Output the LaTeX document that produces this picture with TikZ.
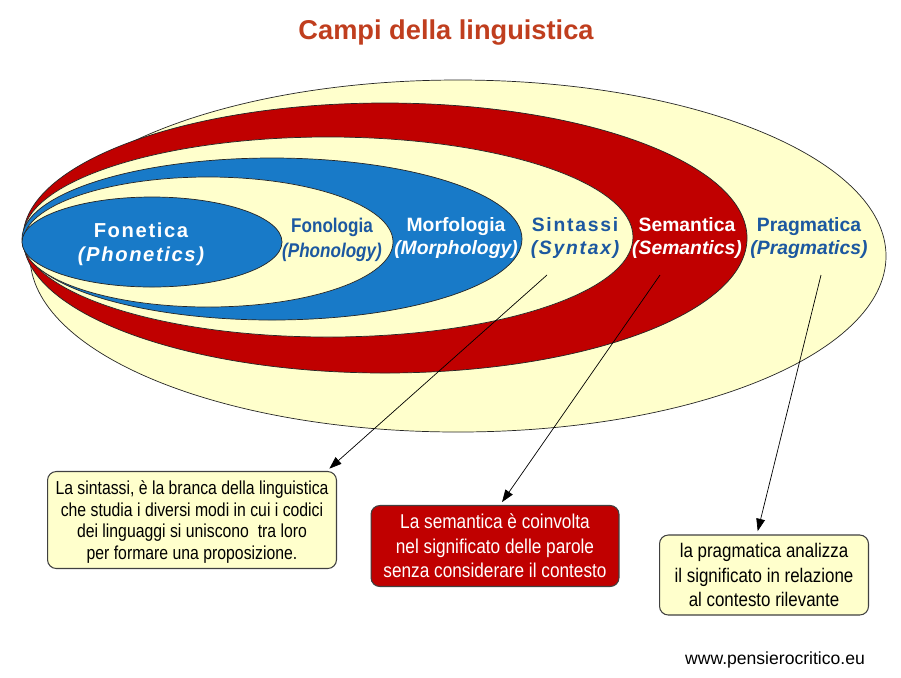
\documentclass[tikz,border=0pt]{standalone}
\usepackage{fontspec}
\setmainfont{Liberation Sans}
\newfontfamily\narrowsf[FakeStretch=0.86]{Liberation Sans}
\newfontfamily\slimsf[FakeStretch=0.84]{Liberation Sans}
\usetikzlibrary{arrows.meta}

\definecolor{cream}{RGB}{255,255,204}
\definecolor{semred}{RGB}{192,0,0}
\definecolor{fieldblue}{RGB}{24,122,200}
\definecolor{lblblue}{RGB}{28,88,160}
\definecolor{titlered}{RGB}{192,62,30}

\begin{document}
\begin{tikzpicture}[
  x=0.02cm, y=-0.02cm,
  ring/.style={draw=black!85, line width=0.4pt},
  fieldlbl/.style={
    align=center, inner sep=0pt, text=lblblue,
    font=\bfseries\fontsize{11}{13.6}\selectfont,
  },
  whitelbl/.style={fieldlbl, text=white},
  spacedlbl/.style={fieldlbl,
    font=\bfseries\fontsize{11}{13.6}\selectfont\addfontfeatures{LetterSpace=9}},
  narrowlbl/.style={fieldlbl,
    font=\narrowsf\bfseries\fontsize{11.3}{14}\selectfont},
  notebox/.style={
    draw=black!75, line width=0.6pt, rounded corners=5pt,
    align=center, inner sep=0pt,
  },
  creambox/.style={notebox, fill=cream,
    font=\narrowsf\fontsize{10.6}{12.2}\selectfont},
  redbox/.style={notebox, fill=semred, text=white,
    font=\narrowsf\fontsize{11.4}{13.9}\selectfont},
  notetext/.style={align=center, inner sep=0pt,
    font=\slimsf\fontsize{10.7}{12.2}\selectfont},
  callout/.style={-{Triangle[length=7pt, width=5pt]}, line width=0.4pt,
    shorten >=2pt},
]

% page
\fill[white] (0,0) rectangle (901,677);
\useasboundingbox (0,0) rectangle (901,677);

% ---- Title ----
\node[font=\bfseries\fontsize{15.5}{18}\selectfont, text=titlered]
  (title) at (446,33) {Campi della linguistica};

% ======== Nested fields, outer to inner ========
\fill[cream, ring] (458,256) ellipse [x radius=428, y radius=176];      % pragmatica
\fill[semred, ring] (385,238) ellipse [x radius=362, y radius=135];     % semantica
\fill[cream, ring] (328,237) ellipse [x radius=305, y radius=100];      % sintassi
\fill[fieldblue, ring] (272,239) ellipse [x radius=250, y radius=81];   % morfologia
\fill[cream, ring] (208,242) ellipse [x radius=185, y radius=65];       % fonologia
\fill[fieldblue, ring] (152,242) ellipse [x radius=130, y radius=45];   % fonetica

% ---- Field labels ----
\node[spacedlbl, text=white,
  font=\bfseries\fontsize{11.5}{13.8}\selectfont\addfontfeatures{LetterSpace=8}]
  (fonetica) at (141,244) {Fonetica\\\itshape(Phonetics)};
\node[narrowlbl] (fonologia) at (332,240) {Fonologia\\\itshape(Phonology)};
\node[whitelbl] (morfologia) at (456,238) {Morfologia\\\itshape(Morphology)};
\node[spacedlbl] (sintassi) at (575,238) {Sintassi\\\itshape(Syntax)};
\node[whitelbl] (semantica) at (687,238) {Semantica\\\itshape(Semantics)};
\node[fieldlbl] (pragmatica) at (809,238) {Pragmatica\\\itshape(Pragmatics)};

% ---- Notes ----
\node[creambox, minimum width=5.78cm, minimum height=1.94cm]
  (sintnote) at (192,520) {};
\node[notetext] (sinttext) at (192,522) {La sintassi, è la branca della linguistica\\
  che studia i diversi modi in cui i codici\\
  dei linguaggi si uniscono~ tra loro\\
  per formare una proposizione.};
\node[redbox, minimum width=4.96cm, minimum height=1.62cm]
  (semnote) at (495,546) {La semantica è coinvolta\\
  nel significato delle parole\\
  senza considerare il contesto};
\node[creambox, minimum width=4.18cm, minimum height=1.6cm,
  font=\narrowsf\fontsize{11.2}{13.9}\selectfont]
  (pragnote) at (764,575) {la pragmatica analizza\\
  il significato in relazione\\
  al contesto rilevante};

% ---- Callouts ----
\coordinate (sintpt) at (547,275);
\coordinate (sempt) at (660,275);
\coordinate (pragpt) at (821,275);
\draw[callout] (sintpt) -- (sintnote.20);
\draw[callout] (sempt) -- (semnote.83);
\draw[callout] (pragpt) -- (pragnote.100);

% ---- Source ----
\node[font=\fontsize{10}{12}\selectfont] (source) at (775,660)
  {www.pensierocritico.eu};

\end{tikzpicture}
\end{document}
